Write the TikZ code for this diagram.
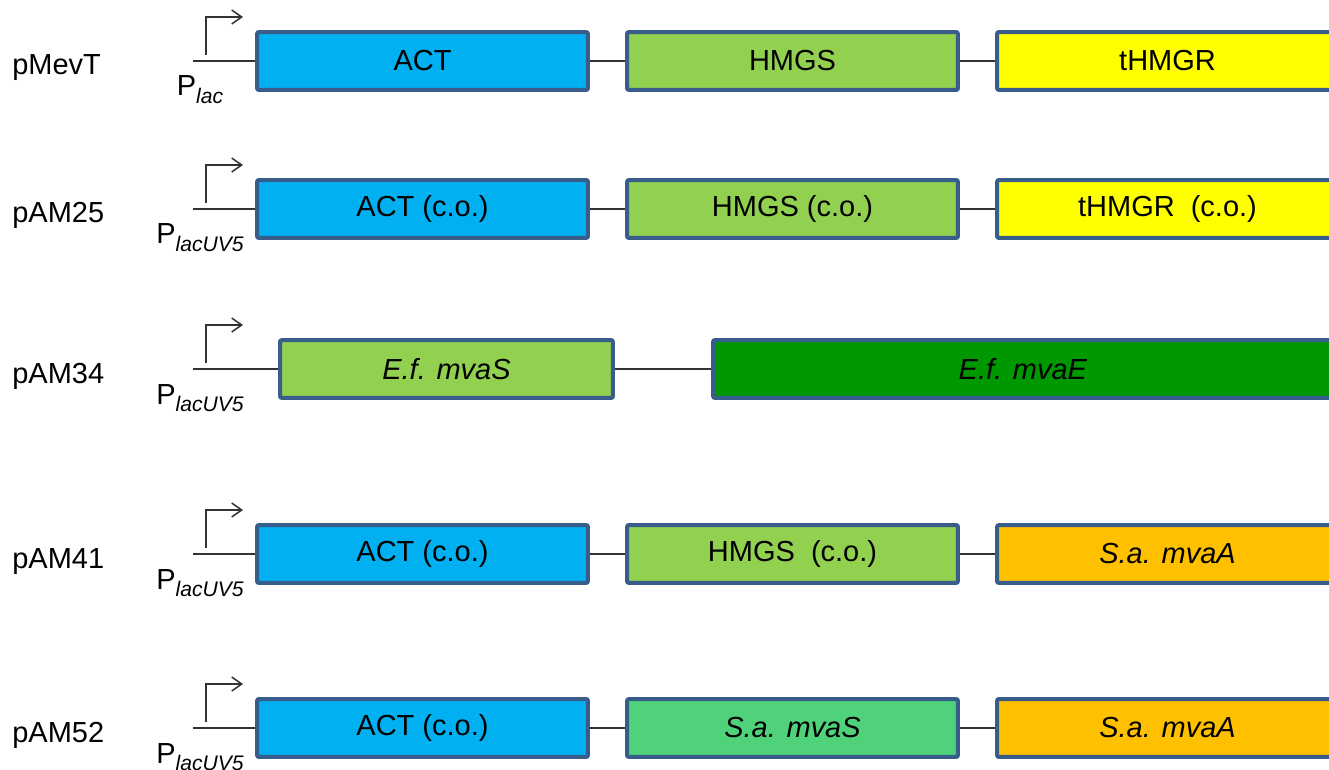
\documentclass[tikz,border=0pt]{standalone}
\usepackage{fontspec}
\setmainfont{Liberation Sans}
\usetikzlibrary{arrows.meta}

\definecolor{actblue}{RGB}{0,176,240}
\definecolor{hmgsgreen}{RGB}{146,208,80}
\definecolor{hmgryellow}{RGB}{255,255,0}
\definecolor{mvaegreen}{RGB}{0,152,0}
\definecolor{mvaaorange}{RGB}{255,192,0}
\definecolor{mvasgreen}{RGB}{80,210,122}
\definecolor{geneedge}{RGB}{56,93,138}

\newcommand{\genefont}{\fontsize{16.5}{20}\selectfont}
\newcommand{\promsub}[1]{P\raisebox{-4.5pt}{\fontsize{12}{14}\selectfont\itshape #1}}

\tikzset{
    gene/.style={draw=geneedge,line width=0.08cm,rounded corners=0.04cm,inner sep=0pt,font=\genefont},
    link/.style={line width=0.03cm,draw=black!80},
}

\begin{document}
\begin{tikzpicture}[x=0.02cm,y=-0.02cm]
        \def\boxH{1.16cm}
        \def\boxW{6.62cm}
        \def\lastW{6.82cm}
        \useasboundingbox (0,0) rectangle (1329,770);
        \foreach \i/\name/\y/\prom/\ta/\tb/\tc/\cb/\cc in{
                1/pMevT/61/lac/ACT/HMGS/tHMGR/hmgsgreen/hmgryellow,
                2/pAM25/209/lacUV5/ACT (c.o.)/HMGS (c.o.)/tHMGR~ (c.o.)/hmgsgreen/hmgryellow,
                3/pAM34/369/lacUV5/\textit{E.f. mvaS}/\textit{E.f. mvaE}/{}/hmgsgreen/mvaegreen,
                4/pAM41/554/lacUV5/ACT (c.o.)/HMGS~ (c.o.)/\textit{S.a. mvaA}/hmgsgreen/mvaaorange,
                5/pAM52/728/lacUV5/ACT (c.o.)/\textit{S.a. mvaS}/\textit{S.a. mvaA}/mvasgreen/mvaaorange} {
                \node[font=\genefont,anchor=base west,inner sep=0pt] (lab\i) at (12,\y+14) {\name};
                \node[font=\genefont,anchor=base,inner sep=0pt] (p\i) at (200,\y+35) {\promsub{\prom}};

                % promoter
                \coordinate (s\i) at (193,\y);
                \coordinate (tss\i) at (206,\y-6);
                \coordinate (tip\i) at (243,\y-44);
                \draw [link,-{Straight Barb[length=2mm,width=2.8mm]}] (tss\i) |- (tip\i);

                \ifnum\i=3
                    \node[gene,fill=\cb,minimum width=6.66cm,minimum height=\boxH] (a\i) at (446.5,\y) {\ta};
                    \node[gene,fill=\cc,minimum width=12.4cm,minimum height=\boxH] (b\i) at (1023,\y) {\tb};
                    \draw [link] (s\i) -- (a\i.west) (a\i.east) -- (b\i.west);
                \else
                    \node[gene,fill=actblue,minimum width=\boxW,minimum height=\boxH] (a\i) at (422.5,\y) {\ta};
                    \node[gene,fill=\cb,minimum width=\boxW,minimum height=\boxH] (b\i) at (792.5,\y) {\tb};
                    \node[gene,fill=\cc,minimum width=\lastW,minimum height=\boxH] (c\i) at (1167.5,\y) {\tc};
                    \draw [link] (s\i) -- (a\i.west) (a\i.east) -- (b\i.west) (b\i.east) -- (c\i.west);
                \fi
            }
    \end{tikzpicture}
\end{document}
